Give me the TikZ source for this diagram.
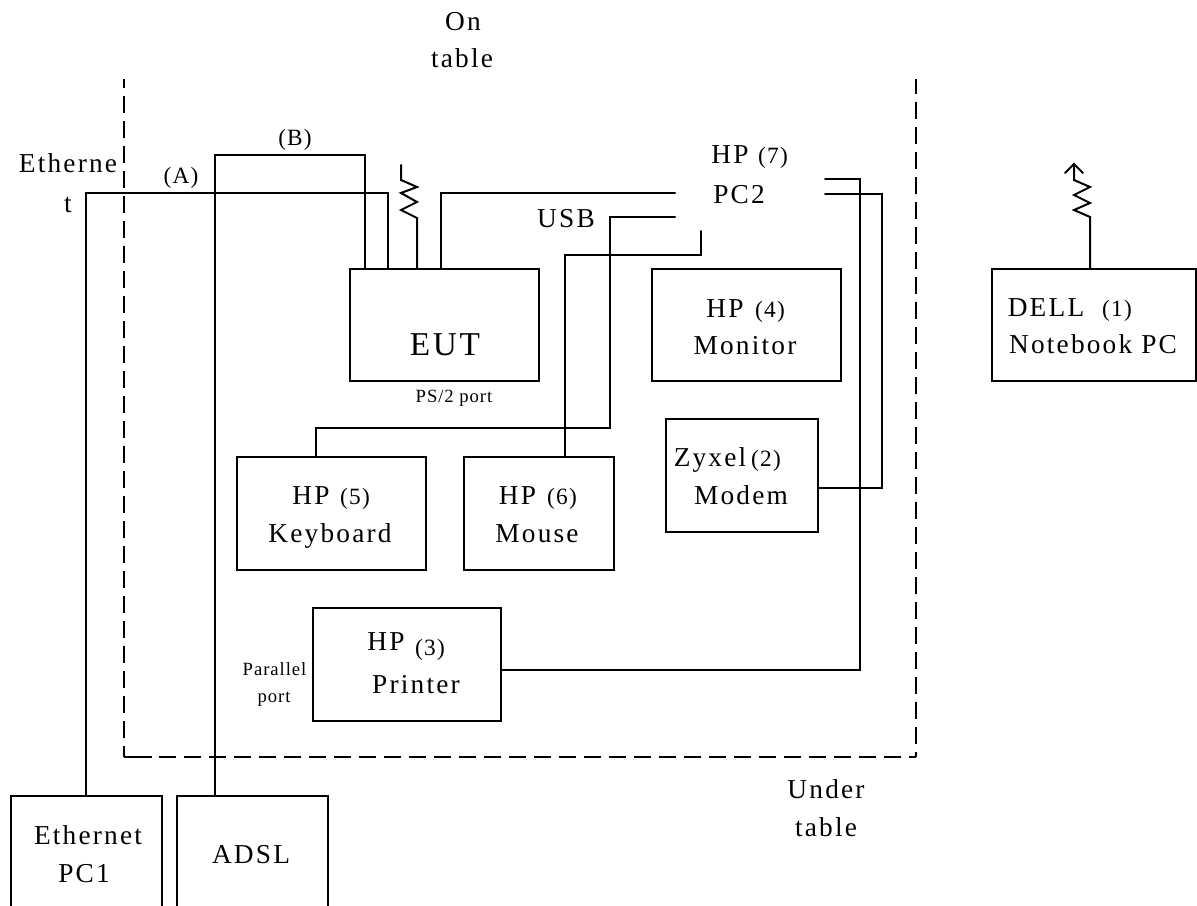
\documentclass[tikz,border=0pt]{standalone}
\usepackage{fontspec}
\setmainfont{Liberation Serif}
\newfontfamily\spaced{Liberation Serif}[LetterSpace=8]
\newfontfamily\spacedb{Liberation Serif}[LetterSpace=5]
\begin{document}
\begin{tikzpicture}[x=0.75pt,y=-0.75pt,line width=1.5pt,
  box/.style={draw,rectangle,inner sep=0pt,outer sep=0pt},
  openbox/.style={rectangle,inner sep=0pt,outer sep=0pt},
  wire/.style={line cap=round,line join=miter},
  border/.style={dash pattern=on 12.75pt off 6pt,line width=1.5pt},
  lab/.style={inner sep=0pt,anchor=base,font=\spaced\fontsize{20.5}{24}\selectfont},
  big/.style={inner sep=0pt,anchor=base,font=\spaced\fontsize{25}{28}\selectfont},
  num/.style={inner sep=0pt,anchor=base,font=\spacedb\fontsize{17.5}{20}\selectfont},
  tiny/.style={inner sep=0pt,anchor=base,font=\spacedb\fontsize{14}{16}\selectfont}]
\useasboundingbox (0,0) rectangle (1197,906);
% region border
\coordinate (bTL) at (124,79);
\coordinate (bBL) at (124,757);
\coordinate (bBL2) at (152,757);
\coordinate (bBR) at (916,757);
\coordinate (bTR) at (916,79);
\draw[border,dash phase=6pt] (bTL) -- (bBL);
\draw[line width=1.5pt] (bBL) -- (bBL2);
\draw[border] (159,757) -- (bBR);
\draw[border,dash phase=1.5pt] (bTR) -- (bBR);
% boxes
\node[box,minimum width=141.75pt,minimum height=84pt] (eut) at (444.5,325) {};
\node[box,minimum width=141.75pt,minimum height=84pt] (monitor) at (746.5,325) {};
\node[box,minimum width=153pt,minimum height=84pt] (dell) at (1094,325) {};
\node[box,minimum width=141.75pt,minimum height=84.75pt] (keyboard) at (331.5,513.5) {};
\node[box,minimum width=112.5pt,minimum height=84.75pt] (mouse) at (539,513.5) {};
\node[box,minimum width=114pt,minimum height=84.75pt] (modem) at (742,475.5) {};
\node[box,minimum width=141pt,minimum height=84.75pt] (printer) at (407,664.5) {};
\node[openbox,minimum width=113.25pt,minimum height=82.5pt] (eth) at (86.5,851) {};
\node[openbox,minimum width=113.25pt,minimum height=82.5pt] (adsl) at (252.5,851) {};
\draw (eth.south west) -- (eth.north west) -- (eth.north east) -- (eth.south east);
\draw (adsl.south west) -- (adsl.north west) -- (adsl.north east) -- (adsl.south east);
% helper columns
\coordinate (xA) at (86,0);
\coordinate (xA2) at (388,0);
\coordinate (xB) at (215,0);
\coordinate (xB2) at (365,0);
\coordinate (xV) at (441,0);
\coordinate (xW) at (417,0);
\coordinate (xK) at (316,0);
\coordinate (xM) at (565,0);
\coordinate (xN) at (1090,0);
\coordinate (yP) at (0,670);
\coordinate (yZ) at (0,488);
% free ends at PC2
\coordinate (pcV) at (675,193);
\coordinate (pcK) at (675,217);
\coordinate (pcM) at (701,231);
\coordinate (pcP) at (825,179);
\coordinate (pcZ) at (825,194);
% connectors
\draw[wire] (eth.north -| xA) -- (86,193) -- (388,193) -- (eut.north -| xA2);
\draw[wire] (adsl.north -| xB) -- (215,155) -- (365,155) -- (eut.north -| xB2);
\draw[wire] (eut.north -| xV) -- (441,193) -- (pcV);
\draw[wire] (keyboard.north -| xK) -- (316,428) -- (610,428) -- (610,217) -- (pcK);
\draw[wire] (mouse.north -| xM) -- (565,255) -- (701,255) -- (pcM);
\draw[wire] (printer.east |- yP) -- (860,670) -- (860,179) -- (pcP);
\draw[wire] (modem.east |- yZ) -- (882,488) -- (882,194) -- (pcZ);
% antennas
\draw[wire] (eut.north -| xW) -- (417,218) -- (401,210) -- (417,202) -- (401,193) -- (417,187) -- (401,180) -- (401,165);
\coordinate (tip) at (1074,164);
\draw[wire] (dell.north -| xN) -- (1090,217) -- (1074,210) -- (1090,203) -- (1074,195) -- (1090,187) -- (1074,180) -- (tip);
\draw[wire] (1065,173) -- (tip) -- (1083,173);
% labels
\node[lab] (t1) at (463,31) {On};
\node[lab] (t2) at (462,68) {table};
\node[lab] (t3) at (68,172) {Etherne};
\node[lab] (t4) at (68,212) {t};
\node[num] (t5) at (181,183) {(A)};
\node[num] (t6) at (295,146) {(B)};
\node[lab] (t7) at (730,164) {HP};
\node[num] (t8) at (773,164) {(7)};
\node[lab] (t9) at (739,203) {PC2};
\node[lab] (t10) at (566,227) {USB};
\node[big] (t11) at (445,355) {EUT};
\node[tiny] (t12) at (454,402) {PS/2 port};
\node[lab] (t13) at (725,317) {HP};
\node[num] (t14) at (770,317) {(4)};
\node[lab] (t15) at (745,354) {Monitor};
\node[lab] (t16) at (1046,316) {DELL};
\node[num] (t17) at (1117,316) {(1)};
\node[lab] (t18) at (1093,353) {Notebook PC};
\node[lab] (t19) at (710,466) {Zyxel};
\node[num] (t20) at (766,466) {(2)};
\node[lab] (t21) at (741,504) {Modem};
\node[lab] (t22) at (311,504) {HP};
\node[num] (t23) at (355,504) {(5)};
\node[lab] (t24) at (330,542) {Keyboard};
\node[lab] (t25) at (517.5,504) {HP};
\node[num] (t26) at (562,504) {(6)};
\node[lab] (t27) at (537,542) {Mouse};
\node[lab] (t28) at (386,650) {HP};
\node[num] (t29) at (430,655) {(3)};
\node[lab] (t30) at (416,693) {Printer};
\node[tiny] (t31) at (274.5,675) {Parallel};
\node[tiny] (t32) at (274,702) {port};
\node[lab] (t33) at (826,798) {Under};
\node[lab] (t34) at (826,836) {table};
\node[lab] (t35) at (88,844) {Ethernet};
\node[lab] (t36) at (84,882) {PC1};
\node[lab] (t37) at (251,863) {ADSL};
\end{tikzpicture}
\end{document}
